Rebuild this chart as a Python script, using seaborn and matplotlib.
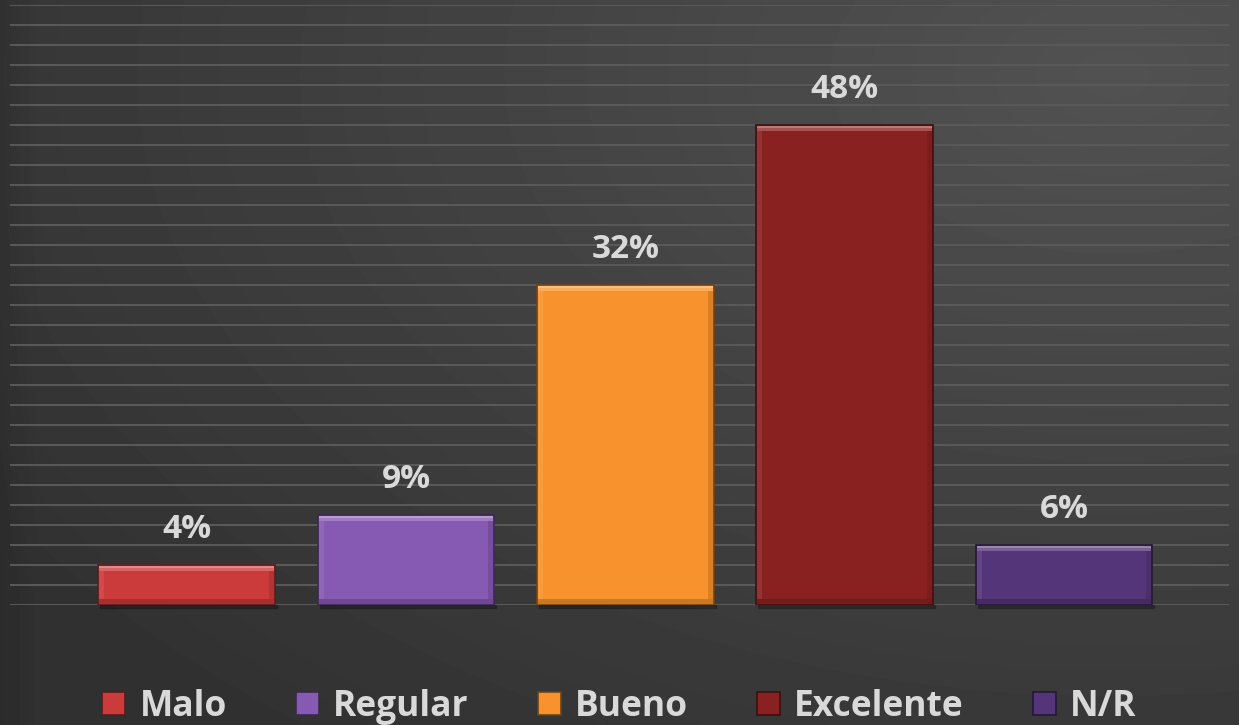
import numpy as np
import pandas as pd
import matplotlib
matplotlib.use("Agg")
import matplotlib.pyplot as plt
from matplotlib.patches import Rectangle
import matplotlib.colors as mcolors
import seaborn as sns

categories = ["Malo", "Regular", "Bueno", "Excelente", "N/R"]
values = [4, 9, 32, 48, 6]
labels = ["4%", "9%", "32%", "48%", "6%"]
colors = ["#cb3b3b", "#8659b3", "#f7922c", "#8a2121", "#553579"]

sns.set_theme(style="dark")
plt.rcParams["font.family"] = ["Open Sans", "DejaVu Sans"]

W, H = 1239, 725
fig = plt.figure(figsize=(W / 100, H / 100), dpi=100)

# dark gradient background, lighter toward the upper right
bg = fig.add_axes([0, 0, 1, 1], zorder=0)
yy, xx = np.mgrid[0:1:200j, 0:1:340j]
shade = 0.19 + 0.13 * np.clip(1 - np.hypot((xx - 0.9) / 1.1, (yy - 0.1) / 1.2), 0, 1)
shade = shade - 0.02 * np.clip(1 - xx / 0.03, 0, 1)
bg.imshow(shade, cmap="gray", vmin=0, vmax=1, aspect="auto",
          extent=[0, 1, 1, 0], interpolation="bicubic")
bg.set_axis_off()

ax = fig.add_axes([10 / W, (H - 605) / H, 1219 / W, 600 / H], zorder=1)
ax.patch.set_alpha(0)

df = pd.DataFrame({"cat": categories, "val": values})
sns.barplot(data=df, x="cat", y="val", hue="cat", palette=colors,
            width=0.806, ax=ax, legend=False, saturation=1, zorder=3)

ax.set_xlim(-0.806, 4.752)
ax.set_ylim(0, 60)
ax.set_yticks(np.arange(0, 61, 2))
ax.grid(axis="y", color="#5a5a5a", linewidth=1.4, zorder=0)
ax.grid(axis="x", visible=False)
ax.set_axisbelow(True)
ax.set_xlabel("")
ax.set_ylabel("")
ax.set_xticklabels([])
ax.set_yticklabels([])
ax.tick_params(length=0)
for s in ax.spines.values():
    s.set_visible(False)

# pixel size in data units
px_x = (ax.get_xlim()[1] - ax.get_xlim()[0]) / 1219
px_y = 60 / 600

def shift(c, f):
    r, g, b = mcolors.to_rgb(c)
    if f > 0:
        return (r + (1 - r) * f, g + (1 - g) * f, b + (1 - b) * f)
    return (r * (1 + f), g * (1 + f), b * (1 + f))

# bevelled look on each bar
for bar, col, lab in zip(ax.patches, colors, labels):
    x0, w = bar.get_x(), bar.get_width()
    h = bar.get_height()
    bar.set_edgecolor(shift(col, -0.55))
    bar.set_linewidth(1.2)
    # soft shadow under the bar
    ax.add_patch(Rectangle((x0 + 2 * px_x, -3 * px_y), w, 3 * px_y,
                           color="black", alpha=0.25, zorder=2, clip_on=False))
    bev = 6
    ax.add_patch(Rectangle((x0 + px_x, h - bev * px_y), w - 2 * px_x, bev * px_y - px_y,
                           color=shift(col, 0.22), zorder=4, lw=0))
    ax.add_patch(Rectangle((x0 + px_x, h - 2.5 * px_y), w - 2 * px_x, 1.5 * px_y,
                           color=shift(col, 0.40), zorder=4, lw=0))
    ax.add_patch(Rectangle((x0 + px_x, px_y), 5 * px_x, h - (bev + 1) * px_y,
                           color=shift(col, 0.08), zorder=4, lw=0))
    ax.add_patch(Rectangle((x0 + w - 6 * px_x, px_y), 5 * px_x, h - (bev + 1) * px_y,
                           color=shift(col, -0.12), zorder=4, lw=0))
    ax.add_patch(Rectangle((x0 + px_x, px_y), w - 2 * px_x, 5 * px_y,
                           color=shift(col, -0.18), zorder=4, lw=0))
    ax.annotate(lab, (x0 + w / 2, h), xytext=(0, 36), textcoords="offset pixels",
                ha="center", va="center", fontsize=24, fontweight="bold",
                color="#d9d9d9", zorder=5)

handles = [Rectangle((0, 0), 1, 1, facecolor=c, edgecolor=shift(c, -0.55), lw=1.2)
           for c in colors]
fig.legend(handles, categories, loc="center", bbox_to_anchor=(0.5, 1 - 707 / H),
           ncol=5, frameon=False,
           prop={"weight": "bold", "size": 25.5},
           labelcolor="#d9d9d9", handlelength=0.65, handleheight=0.65,
           handletextpad=0.4, columnspacing=1.95)

fig.savefig("out.png", dpi=100)
